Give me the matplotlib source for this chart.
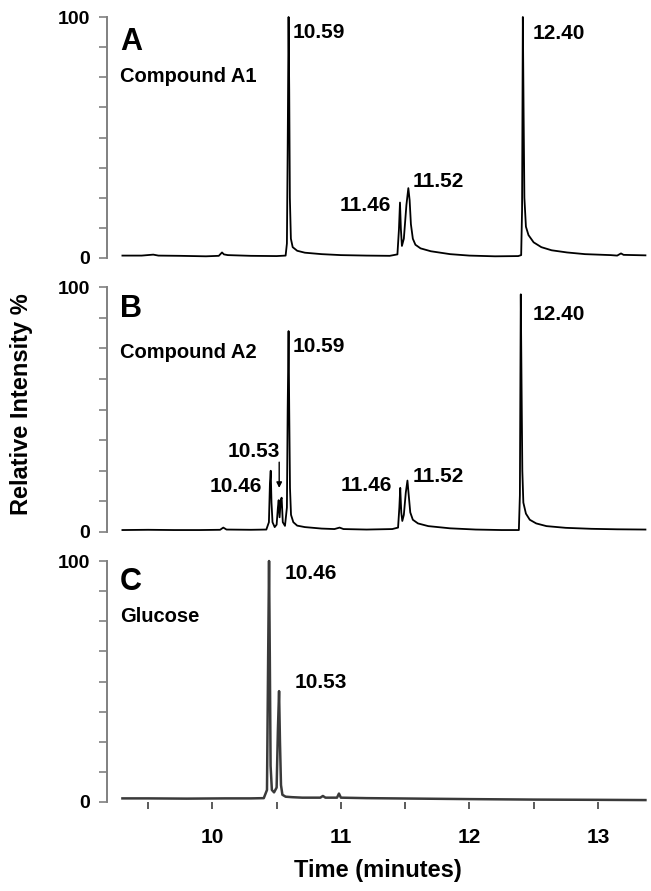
import numpy as np
import matplotlib
matplotlib.use('Agg')
import matplotlib.pyplot as plt
from matplotlib.ticker import FixedLocator, NullFormatter

plt.rcParams['font.family'] = ['Liberation Sans', 'DejaVu Sans']
plt.rcParams['font.weight'] = 'bold'
plt.rcParams['axes.labelweight'] = 'bold'

# chromatogram traces: time (min), relative intensity (%)
time_a = [9.30, 9.45, 9.54, 9.58, 9.75, 9.95, 10.05, 10.075, 10.09, 10.12, 10.30, 10.50,
          10.57, 10.580, 10.586, 10.593, 10.598, 10.603, 10.611, 10.625, 10.66, 10.72, 10.85,
          11.00, 11.20, 11.38, 11.44, 11.452, 11.460, 11.467, 11.475, 11.49, 11.51, 11.525,
          11.535, 11.545, 11.56, 11.58, 11.62, 11.70, 11.85, 12.00, 12.20, 12.38, 12.403,
          12.410, 12.416, 12.422, 12.428, 12.44, 12.46, 12.50, 12.56, 12.64, 12.76, 12.90,
          13.10, 13.15, 13.18, 13.20, 13.37]
int_a = [1.0, 1.0, 1.4, 1.0, 0.9, 0.7, 0.9, 2.3, 1.5, 1.2, 0.9, 0.8,
         1.0, 6.0, 45.0, 100.0, 70.0, 25.0, 8.0, 4.5, 3.0, 2.2, 1.6,
         1.2, 1.0, 0.9, 1.5, 12.0, 23.0, 12.0, 5.0, 8.0, 22.0, 29.0,
         24.0, 14.0, 8.0, 5.5, 4.0, 2.8, 1.6, 1.0, 0.7, 0.8, 1.2,
         20.0, 100.0, 60.0, 25.0, 13.0, 9.5, 6.5, 4.5, 3.2, 2.3, 1.6,
         1.2, 1.0, 1.9, 1.3, 1.1]

time_b = [9.30, 9.50, 9.70, 9.90, 10.06, 10.085, 10.11, 10.30, 10.42, 10.440, 10.448, 10.454,
          10.460, 10.468, 10.485, 10.500, 10.510, 10.516, 10.523, 10.532, 10.539, 10.548,
          10.565, 10.580, 10.586, 10.593, 10.598, 10.604, 10.612, 10.63, 10.66, 10.72, 10.85,
          10.95, 10.99, 11.02, 11.20, 11.40, 11.445, 11.455, 11.462, 11.470, 11.478, 11.49,
          11.505, 11.518, 11.528, 11.540, 11.56, 11.60, 11.68, 11.85, 12.05, 12.25, 12.385,
          12.393, 12.400, 12.406, 12.412, 12.42, 12.44, 12.47, 12.52, 12.60, 12.75, 12.95,
          13.15, 13.37]
int_b = [0.8, 0.9, 0.8, 0.8, 0.9, 1.8, 1.0, 0.9, 1.0, 4.0, 20.0, 25.0,
         12.0, 4.0, 2.0, 3.0, 10.0, 13.0, 6.0, 13.0, 14.0, 4.0,
         2.5, 10.0, 50.0, 82.0, 50.0, 18.0, 7.0, 4.0, 2.6, 2.0, 1.4,
         1.2, 1.8, 1.2, 1.0, 1.2, 1.8, 10.0, 18.0, 8.0, 4.5, 7.0,
         16.0, 21.0, 15.0, 8.0, 5.0, 3.5, 2.4, 1.5, 1.0, 0.8, 0.8,
         15.0, 97.0, 60.0, 25.0, 12.0, 7.5, 5.0, 3.5, 2.4, 1.7, 1.3,
         1.1, 1.0]

time_c = [9.30, 9.50, 9.80, 10.10, 10.30, 10.40, 10.425, 10.434, 10.441, 10.447, 10.453,
          10.463, 10.48, 10.500, 10.510, 10.519, 10.526, 10.534, 10.545, 10.57, 10.62,
          10.70, 10.84, 10.86, 10.88, 10.97, 10.985, 11.00, 11.20, 11.60, 12.00, 12.50,
          13.00, 13.37]
int_c = [1.5, 1.5, 1.4, 1.5, 1.5, 1.6, 5.0, 60.0, 100.0, 60.0, 15.0,
         5.0, 4.0, 6.0, 30.0, 46.0, 25.0, 7.0, 3.0, 2.2, 2.0,
         1.8, 1.8, 2.5, 1.8, 1.8, 3.5, 1.8, 1.6, 1.4, 1.2, 1.0,
         0.9, 0.8]

panel_letters = ['A', 'B', 'C']
sample_names = ['Compound A1', 'Compound A2', 'Glucose']

# peak labels: (text, x, y, ha)
labels_a = [('10.59', 10.627, 91.3, 'left'), ('12.40', 12.495, 90.9, 'left'),
            ('11.46', 11.39, 19.5, 'right'), ('11.52', 11.56, 29.5, 'left')]
labels_b = [('10.59', 10.627, 73.5, 'left'), ('10.53', 10.526, 30.6, 'right'),
            ('10.46', 10.39, 16.3, 'right'), ('11.46', 11.395, 16.8, 'right'),
            ('11.52', 11.56, 20.4, 'left'), ('12.40', 12.49, 86.5, 'left')]
labels_c = [('10.46', 10.56, 92.5, 'left'), ('10.53', 10.64, 47.3, 'left')]


def style_axis(ax, bottom):
    ax.set_xlim(9.18, 13.39)
    ax.set_ylim(0, 100)
    for s in ['top', 'right', 'bottom']:
        ax.spines[s].set_visible(False)
    ax.spines['left'].set_color('#808080')
    ax.spines['left'].set_linewidth(1.4)
    ax.yaxis.set_major_locator(FixedLocator([0, 100]))
    ax.yaxis.set_minor_locator(FixedLocator(np.arange(12.5, 100, 12.5)))
    ax.tick_params(axis='y', which='both', length=6, width=1.2, color='#808080',
                   labelsize=14, pad=6)
    if bottom:
        ax.xaxis.set_major_locator(FixedLocator([10, 11, 12, 13]))
        ax.xaxis.set_minor_locator(FixedLocator([9.5, 10.5, 11.5, 12.5]))
        ax.xaxis.set_minor_formatter(NullFormatter())
        ax.tick_params(axis='x', which='both', length=5, width=1.2, color='#404040',
                       labelsize=15, pad=14)
        ax.set_xlabel('Time (minutes)', fontsize=17, fontweight='bold', labelpad=8)
    else:
        ax.set_xticks([])


def main():
    fig = plt.figure(figsize=(6.51, 8.91), dpi=100)
    W, H = 651., 891.
    boxes = [(17, 258), (287, 532), (561, 802)]
    traces = [(time_a, int_a, 'black', 1.3), (time_b, int_b, 'black', 1.3),
              (time_c, int_c, '#3a3a3a', 1.8)]
    labels = [labels_a, labels_b, labels_c]
    letter_y = [86.3, 87.8, 88.0]
    name_y = [73.0, 71.0, 74.7]
    for k in range(3):
        top, bot = boxes[k]
        ax = fig.add_axes([107 / W, 1 - bot / H, 541 / W, (bot - top) / H])
        t, y, c, lw = traces[k]
        ax.plot(t, y, color=c, lw=lw, clip_on=False)
        style_axis(ax, k == 2)
        ax.text(9.28, letter_y[k], panel_letters[k], fontsize=22, fontweight='bold',
                va='baseline')
        ax.text(9.28, name_y[k], sample_names[k], fontsize=14.5, va='baseline')
        for txt, x, yy, ha in labels[k]:
            ax.text(x, yy, txt, fontsize=15, ha=ha, va='baseline')
        if k == 1:
            ax.annotate('', xy=(10.52, 18), xytext=(10.52, 28.5),
                        arrowprops=dict(arrowstyle='-|>', lw=1, color='black',
                                        mutation_scale=8, shrinkA=0, shrinkB=0))
    fig.text(22 / W, 1 - 404 / H, 'Relative Intensity %', rotation=90, fontsize=17,
             fontweight='bold', ha='center', va='center')
    fig.savefig('out.png', dpi=100)


if __name__ == '__main__':
    main()
